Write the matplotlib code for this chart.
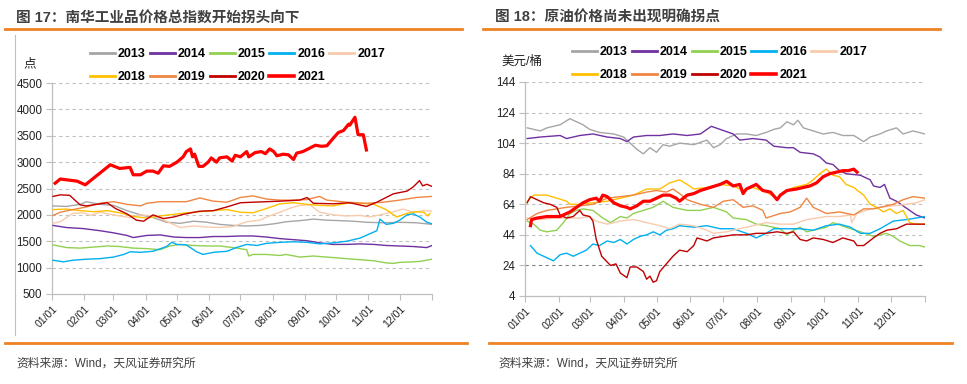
import matplotlib
matplotlib.use("Agg")
import matplotlib.pyplot as plt
from matplotlib.lines import Line2D

plt.rcParams['font.family'] = ['Liberation Sans', 'Noto Sans CJK SC', 'DejaVu Sans']
plt.rcParams['axes.unicode_minus'] = False

# ---------------- data: (day of year, value) ----------------
YEARS = ['2013', '2014', '2015', '2016', '2017', '2018', '2019', '2020', '2021']
MONTH_START = [0, 31, 59, 90, 120, 151, 181, 212, 243, 273, 304, 334, 365]
MONTH_LABELS = ['01/01', '02/01', '03/01', '04/01', '05/01', '06/01',
                '07/01', '08/01', '09/01', '10/01', '11/01', '12/01']

# 南华工业品指数
NH_2013 = [(1,2170),(14,2160),(27,2200),(33,2250),(46,2200),(59,2180),(72,2080),(85,2000),(97,1950),(110,1860),
           (123,1840),(136,1880),(149,1860),(161,1820),(174,1800),(187,1790),(200,1800),(213,1830),(225,1870),(238,1890),
           (251,1920),(264,1900),(277,1890),(289,1880),(302,1860),(318,1850),(334,1860),(350,1850),(365,1820)]
NH_2014 = [(1,1800),(14,1760),(30,1740),(46,1700),(59,1660),(72,1610),(78,1570),(91,1610),(104,1620),(117,1580),
           (129,1570),(142,1570),(155,1590),(168,1590),(181,1600),(193,1600),(206,1580),(219,1550),(232,1530),(245,1510),
           (257,1470),(270,1440),(283,1440),(296,1450),(309,1440),(321,1420),(334,1410),(347,1400),(360,1380),(365,1420)]
NH_2015 = [(1,1430),(14,1380),(27,1370),(40,1390),(53,1410),(65,1400),(78,1370),(91,1360),(104,1340),(113,1410),
           (123,1440),(136,1420),(149,1410),(161,1410),(174,1380),(187,1340),(189,1220),(193,1250),(206,1250),(219,1230),
           (225,1250),(238,1200),(251,1220),(264,1200),(283,1170),(296,1150),(309,1130),(321,1090),(328,1080),(334,1100),
           (347,1110),(354,1120),(365,1160)]
NH_2016 = [(1,1140),(11,1110),(20,1140),(33,1160),(46,1170),(59,1200),(69,1250),(75,1300),(85,1290),(97,1310),
           (110,1400),(115,1480),(120,1440),(129,1430),(139,1300),(145,1250),(155,1290),(168,1310),(177,1380),(187,1440),
           (197,1420),(206,1460),(219,1480),(232,1490),(245,1480),(257,1450),(270,1470),(283,1500),(296,1560),(305,1640),
           (312,1700),(315,1920),(321,1820),(328,1840),(334,1900),(341,2000),(347,2020),(354,1950),(360,1860),(365,1830)]
NH_2017 = [(1,1840),(8,1870),(14,1950),(20,2030),(30,2040),(37,1990),(46,2050),(59,2000),(65,1980),(75,1950),
           (85,2000),(97,1980),(110,1880),(123,1760),(136,1790),(149,1770),(161,1760),(174,1780),(187,1870),(200,1900),
           (206,1960),(219,2050),(229,2130),(238,2180),(248,2190),(257,2050),(270,2000),(283,1980),(296,1990),(305,1960),
           (315,2000),(328,2060),(337,2110),(347,2050),(357,2080),(365,2070)]
NH_2018 = [(1,2100),(14,2110),(27,2080),(40,2060),(53,2080),(65,2040),(78,1970),(91,1940),(104,1980),(117,2010),
           (129,2040),(142,2060),(155,2080),(168,2100),(181,2050),(193,2040),(206,2120),(219,2210),(232,2230),(245,2200),
           (257,2180),(270,2170),(283,2220),(296,2220),(309,2200),(321,2100),(331,1960),(341,2030),(350,2060),(357,2050),
           (361,1980),(363,2030)]
NH_2019 = [(1,1990),(8,2050),(20,2100),(33,2150),(46,2220),(59,2250),(72,2200),(85,2170),(91,2220),(104,2250),
           (129,2250),(142,2320),(155,2260),(168,2240),(181,2330),(193,2360),(206,2300),(219,2280),(232,2280),(245,2290),
           (257,2350),(264,2280),(283,2240),(302,2220),(318,2240),(334,2280),(350,2330),(365,2350)]
NH_2020 = [(1,2350),(8,2380),(17,2370),(27,2190),(33,2170),(46,2210),(53,2230),(61,2120),(72,2020),(81,1900),
           (88,1880),(97,2000),(107,1930),(117,1960),(126,2010),(142,2070),(155,2080),(168,2150),(181,2230),(193,2240),
           (206,2250),(219,2260),(238,2280),(245,2330),(251,2220),(270,2210),(286,2230),(302,2160),(312,2240),(318,2300),
           (328,2400),(341,2450),(347,2530),(353,2650),(356,2550),(360,2580),(365,2540)]
NH_2021 = [(3,2600),(8,2680),(24,2640),(32,2570),(56,2950),(65,2880),(75,2900),(78,2760),(85,2760),(91,2830),
           (97,2830),(102,2790),(107,2930),(113,2920),(120,3000),(126,3100),(129,3200),(133,3250),(135,3100),(137,3150),
           (141,2920),(145,2920),(150,3000),(153,3080),(158,3000),(161,3080),(168,3100),(173,3020),(176,3130),(181,3100),
           (187,3200),(189,3100),(195,3180),(201,3200),(205,3160),(209,3250),(213,3200),(216,3120),(222,3150),(227,3140),
           (232,3050),(235,3170),(241,3200),(246,3250),(253,3320),(259,3300),(264,3310),(270,3450),(275,3560),(280,3600),
           (285,3720),(286,3700),(291,3850),(294,3520),(299,3520),(302,3230)]

# 原油价格
WTI_2013 = [(2,114),(8,113),(14,112),(20,114),(32,116),(41,120),(47,118),(53,116),(59,113),(68,111),
            (81,110),(90,108),(96,104),(102,100),(108,97),(114,101),(120,98),(126,103),(132,102),(141,104),
            (154,103),(166,106),(172,101),(178,103),(184,107),(193,110),(202,110),(211,109),(220,111),(227,113),
            (233,114),(239,118),(245,116),(249,119),(254,114),(263,112),(272,110),(281,111),(290,109),(300,109),
            (309,105),(315,108),(324,110),(330,112),(339,114),(345,110),(354,112),(365,110)]
WTI_2014 = [(2,107),(14,108),(32,109),(38,107),(50,109),(62,110),(75,108),(87,107),(93,105),(99,108),
            (111,109),(123,109),(135,110),(148,109),(160,110),(166,113),(170,115),(178,113),(190,110),(196,106),
            (208,107),(220,106),(227,102),(239,101),(245,101),(251,98),(263,97),(269,95),(275,91),(281,90),
            (287,86),(293,84),(306,83),(315,80),(318,76),(324,75),(328,77),(333,68),(339,66),(345,63),
            (351,60),(357,57),(365,55)]
WTI_2015 = [(2,53),(8,51),(14,47),(20,46),(29,47),(35,52),(41,58),(47,60),(53,61),(62,60),
            (71,55),(78,52),(87,56),(93,55),(99,58),(108,60),(117,62),(126,66),(135,62),(148,60),
            (160,60),(172,62),(184,59),(190,55),(202,54),(211,51),(220,50),(233,48),(239,44),(245,47),
            (251,49),(257,46),(263,47),(275,49),(281,52),(293,49),(306,46),(318,43),(324,44),(330,45),
            (336,43),(342,40),(351,37),(360,37),(365,36)]
WTI_2016 = [(5,37),(11,32),(20,29),(26,27),(32,31),(38,32),(44,30),(50,32),(56,34),(62,38),
            (68,37),(75,40),(81,39),(87,41),(93,38),(99,41),(105,43),(111,44),(117,46),(123,44),
            (129,47),(135,48),(141,50),(154,49),(166,50),(178,48),(190,48),(202,45),(211,42),(220,45),
            (227,48),(239,48),(251,48),(263,47),(275,50),(287,51),(297,49),(306,45),(315,45),(324,48),
            (336,53),(348,54),(357,55),(365,56)]
WTI_2017 = [(2,55),(14,54),(26,55),(38,55),(50,55),(59,56),(65,53),(75,51),(87,53),(99,54),
            (111,52),(123,50),(132,48),(141,51),(154,50),(166,47),(172,45),(184,46),(196,48),(208,50),
            (220,52),(233,51),(245,51),(257,54),(266,55),(275,56),(287,56),(297,57),(298,52),(303,58),
            (315,61),(324,62),(336,63),(348,64),(357,65),(365,67)]
WTI_2018 = [(2,66),(8,70),(20,70),(29,68),(38,66),(41,64),(50,64),(62,65),(75,66),(87,68),
            (99,70),(111,74),(123,74),(132,78),(141,80),(148,77),(154,74),(166,75),(178,77),(190,76),
            (199,73),(208,75),(220,72),(230,68),(236,72),(245,75),(257,77),(263,80),(269,84),(275,87),
            (281,83),(287,82),(293,77),(300,75),(309,70),(315,64),(321,62),(327,59),(333,61),(339,58),
            (345,60),(351,52),(357,51),(365,51)]
WTI_2019 = [(2,54),(11,58),(20,60),(29,61),(38,62),(50,63),(62,64),(75,68),(87,69),(99,70),
            (111,72),(120,73),(129,72),(135,74),(141,71),(148,67),(160,64),(172,62),(181,66),(190,67),
            (199,62),(208,63),(217,60),(220,55),(233,58),(242,59),(251,62),(257,68),(263,62),(275,58),
            (287,59),(300,57),(309,61),(318,61),(324,62),(336,64),(345,67),(354,69),(365,68)]
WTI_2020 = [(2,65),(5,69),(11,67),(17,65),(23,64),(29,62),(32,57),(38,55),(44,56),(50,60),
            (53,57),(59,56),(62,53),(65,41),(70,30),(78,24),(83,25),(87,19),(93,16),(96,23),
            (102,23),(108,20),(111,15),(114,17),(117,13),(120,14),(123,20),(129,25),(135,30),(141,34),
            (148,33),(154,37),(157,42),(166,40),(172,42),(181,43),(190,44),(202,44),(211,45),(220,45),
            (230,46),(239,45),(245,46),(251,41),(257,40),(263,42),(272,41),(281,39),(290,42),(300,40),
            (303,37),(309,37),(318,42),(324,45),(330,47),(339,48),(348,51),(357,51),(365,51)]
WTI_2021 = [(5,50),(6,54),(11,55),(20,56),(32,56),(41,59),(47,62),(53,65),(59,67),(65,68),
            (68,66),(71,70),(75,69),(81,65),(87,63),(93,62),(96,61),(102,63),(108,66),(114,66),
            (120,68),(126,70),(132,70),(138,68),(141,66),(148,70),(154,71),(160,73),(169,75),(178,77),
            (184,79),(190,76),(196,77),(199,71),(202,74),(208,76),(211,77),(217,73),(224,72),(230,67),
            (233,70),(239,73),(248,74),(254,75),(260,76),(266,78),(272,82),(278,84),(284,85),(290,86),
            (295,86),(300,87),(303,85)]

NH_SERIES = [NH_2013, NH_2014, NH_2015, NH_2016, NH_2017, NH_2018, NH_2019, NH_2020, NH_2021]
WTI_SERIES = [WTI_2013, WTI_2014, WTI_2015, WTI_2016, WTI_2017, WTI_2018, WTI_2019, WTI_2020, WTI_2021]

COLORS = ['#A6A6A6', '#7030A0', '#92D050', '#00B0F0', '#F8CBAD',
          '#FFC000', '#F08640', '#C00000', '#FF0000']

W, H = 967, 384
fig = plt.figure(figsize=(W / 100, H / 100), dpi=100)


def fx(px):
    return px / W


def fy(py):
    return 1 - py / H


def lw_of(i):
    return 2.3 if i == 8 else 1.0


def panel(x0, x1, ytop, ybot, series, ylim, yticks, dark_tick=None):
    ax = fig.add_axes([fx(x0), fy(ybot), fx(x1) - fx(x0), fy(ytop) - fy(ybot)])
    for i, s in enumerate(series):
        d = [p[0] for p in s]
        v = [p[1] for p in s]
        ax.plot(d, v, color=COLORS[i], lw=lw_of(i), zorder=3 + i, solid_joinstyle='round')
    ax.set_xlim(0, 365)
    ax.set_ylim(*ylim)
    ax.set_yticks(yticks)
    for t in yticks[1:]:
        c = '#808080' if t == dark_tick else '#BFBFBF'
        ax.axhline(t, color=c, lw=0.8, ls=(0, (3, 3)), zorder=1)
    ax.set_xticks(MONTH_START)
    ax.set_xticklabels(MONTH_LABELS + [''], rotation=45, ha='right', va='top',
                       rotation_mode='anchor', fontsize=7.5, color='#222222')
    ax.tick_params(axis='x', direction='out', length=4, width=0.8, color='#BFBFBF', pad=3)
    ax.tick_params(axis='y', direction='out', length=4, width=0.8, color='#BFBFBF', pad=3,
                   labelsize=8.3, labelcolor='#222222')
    for sp in ['top', 'right']:
        ax.spines[sp].set_visible(False)
    for sp in ['left', 'bottom']:
        ax.spines[sp].set_color('#BFBFBF')
        ax.spines[sp].set_linewidth(0.9)
    return ax


panel(52, 432, 83, 294, NH_SERIES, (500, 4500), list(range(500, 4501, 500)))
panel(525, 925, 82, 296, WTI_SERIES, (4, 144), list(range(4, 145, 20)), dark_tick=24)

# legends (row-major order)
order = [0, 5, 1, 6, 2, 7, 3, 8, 4]
handles = [Line2D([], [], color=COLORS[i], lw=2.0 if i != 8 else 2.6) for i in order]
labels = [YEARS[i] for i in order]
for lx, ly in [(90, 48), (572, 46)]:
    fig.legend(handles, labels, ncol=5, loc='upper left', bbox_to_anchor=(fx(lx), fy(ly)),
               frameon=False, borderpad=0, borderaxespad=0, handlelength=2.0,
               handletextpad=0.25, columnspacing=0.3, labelspacing=0.9,
               prop={'weight': 'bold', 'size': 9})

# titles, rules, notes
orange = '#EE8225'
fig.text(fx(16), fy(18), '图 17：南华工业品价格总指数开始拐头向下', fontsize=10.5,
         fontweight='bold', color='#404040', va='center', ha='left')
fig.text(fx(495), fy(18), '图 18：原油价格尚未出现明确拐点', fontsize=10.5,
         fontweight='bold', color='#404040', va='center', ha='left')
for a, b in [(5, 462), (483, 940)]:
    fig.add_artist(Line2D([fx(a), fx(b)], [fy(29), fy(29)], color=orange, lw=2.0))
for a, b in [(5, 467), (489, 952)]:
    fig.add_artist(Line2D([fx(a), fx(b)], [fy(343), fy(343)], color=orange, lw=2.0))
fig.add_artist(Line2D([fx(15), fx(15)], [fy(35), fy(335)], color='#BFBFBF', lw=0.8))

fig.text(fx(30), fy(64), '点', fontsize=9, ha='center', va='center', color='#222222')
fig.text(fx(522), fy(62), '美元/桶', fontsize=9, ha='center', va='center', color='#222222')

fig.text(fx(16), fy(364), '资料来源：Wind，天风证券研究所', fontsize=8.5, color='#404040',
         va='center', ha='left')
fig.text(fx(498), fy(364), '资料来源：Wind，天风证券研究所', fontsize=8.5, color='#404040',
         va='center', ha='left')

fig.savefig('out.png', dpi=100)
